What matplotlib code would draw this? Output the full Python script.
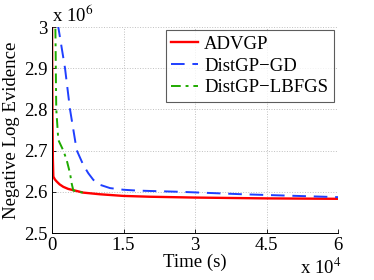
import numpy as np
import matplotlib.pyplot as plt

plt.rcParams['font.family'] = ['Liberation Serif', 'DejaVu Serif']
plt.rcParams['mathtext.fontset'] = 'stix'

# time (s) and negative log evidence
t_advgp = [0, 40, 100, 180, 280, 600, 980, 1600, 2380, 3400, 4480, 6570, 10070, 14960, 20560,
           30000, 45000, 60000]
nle_advgp = [3.06e6, 2.92e6, 2.78e6, 2.68e6, 2.637e6, 2.630e6, 2.625e6, 2.618e6, 2.612e6, 2.607e6,
             2.604e6, 2.598e6, 2.594e6, 2.590e6, 2.588e6, 2.586e6, 2.584e6, 2.583e6]

t_gd = [800, 1320, 2730, 3780, 5180, 6570, 7620, 8670, 10070, 12170, 14960, 17770, 20560, 26850,
        40000, 60000]
nle_gd = [3.06e6, 3.0e6, 2.9e6, 2.8e6, 2.701e6, 2.665e6, 2.645e6, 2.629e6, 2.617e6, 2.609e6,
          2.605e6, 2.603e6, 2.602e6, 2.600e6, 2.594e6, 2.587e6]

t_lbfgs = [650, 760, 840, 900, 1320, 2380, 3080, 3780, 4130, 4480, 5500, 6570]
nle_lbfgs = [3.05e6, 2.95e6, 2.85e6, 2.80e6, 2.726e6, 2.70e6, 2.677e6, 2.645e6, 2.62e6, 2.603e6,
             2.600e6, 2.598e6]

xticks = [0, 15000, 30000, 45000, 60000]
xlabels = ['0', '1.5', '3', '4.5', '6']
yticks = [2.5e6, 2.6e6, 2.7e6, 2.8e6, 2.9e6, 3.0e6]
ylabels = ['2.5', '2.6', '2.7', '2.8', '2.9', '3']

fig = plt.figure(figsize=(3.74, 2.8), dpi=100)
ax = fig.add_axes([52/374, 1-233/280, 286/374, 206/280])

ax.plot(t_advgp, nle_advgp, '-', color='#ff0000', lw=1.7, label='ADVGP')
ax.plot(t_gd, nle_gd, '--', color='#1f3fff', lw=1.4, dashes=(7, 4), label='DistGP\u2212GD')
ax.plot(t_lbfgs, nle_lbfgs, '-.', color='#1faa00', lw=1.4, dashes=(5, 2.5, 1.5, 2.5), label='DistGP\u2212LBFGS')

ax.set_xlim(0, 60000)
ax.set_ylim(2.5e6, 3.0e6)
ax.set_xticks(xticks)
ax.set_xticklabels(xlabels)
ax.set_yticks(yticks)
ax.set_yticklabels(ylabels)
ax.tick_params(direction='in', labelsize=13.5, length=3, width=0.6, pad=3)
ax.grid(True, linestyle=':', color='#c0c0c0', lw=0.7)
ax.spines['top'].set_visible(False)
ax.spines['right'].set_visible(False)
for s in ['left', 'bottom']:
    ax.spines[s].set_linewidth(0.7)

ax.set_xlabel('Time (s)', fontsize=13.5, labelpad=0)
ax.set_ylabel('Negative Log Evidence', fontsize=13.5, labelpad=3)

fig.text(52/374, 1-15/280, r'x 10$^{6}$', fontsize=13.5, va='center', ha='left')
fig.text(300/374, 1-268/280, r'x 10$^{4}$', fontsize=13.5, va='center', ha='left')

leg = ax.legend(loc='upper right', bbox_to_anchor=(0.985, 0.985), fontsize=13.5, frameon=True, fancybox=False,
                handlelength=1.45, borderpad=0.3, labelspacing=0.25, handletextpad=0.3, borderaxespad=0.0)
leg.get_frame().set_edgecolor('#333333')
leg.get_frame().set_linewidth(0.8)

fig.savefig('out.png', dpi=100)
